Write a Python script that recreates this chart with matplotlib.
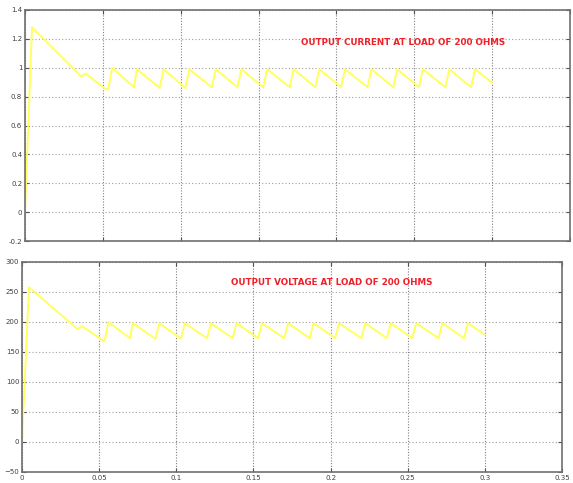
import matplotlib
matplotlib.use("Agg")
import matplotlib.pyplot as plt

# time points (s) shared by both traces
t = [0.0, 0.0045, 0.036, 0.039, 0.052, 0.0535, 0.056,
     0.070, 0.0718, 0.0865, 0.089, 0.103, 0.1055,
     0.120, 0.1225, 0.1365, 0.139, 0.153, 0.1555,
     0.170, 0.1725, 0.1865, 0.189, 0.203, 0.2055,
     0.220, 0.2225, 0.2365, 0.239, 0.253, 0.2555,
     0.270, 0.2725, 0.2865, 0.289, 0.300]

current = [0.0, 1.28, 0.94, 0.96, 0.85, 0.85, 1.0,
           0.865, 0.99, 0.86, 0.99, 0.86, 0.99,
           0.865, 0.99, 0.865, 0.99, 0.865, 0.99,
           0.865, 0.99, 0.865, 0.99, 0.865, 0.99,
           0.865, 0.99, 0.865, 0.99, 0.865, 0.99,
           0.865, 0.99, 0.865, 0.99, 0.895]

voltage = [0.0, 258, 188, 193, 170, 168, 200,
           173, 198, 172, 198, 172, 198,
           173, 198, 173, 198, 173, 198,
           173, 198, 173, 198, 173, 198,
           173, 198, 173, 198, 173, 198,
           173, 198, 173, 198, 179]

current_ticks = [-0.2, 0, 0.2, 0.4, 0.6, 0.8, 1, 1.2, 1.4]
current_labels = ["-0.2", "0", "0.2", "0.4", "0.6", "0.8", "1", "1.2", "1.4"]
voltage_ticks = [-50, 0, 50, 100, 150, 200, 250, 300]
time_ticks = [0, 0.05, 0.1, 0.15, 0.2, 0.25, 0.3, 0.35]
time_labels = ["0", "0.05", "0.1", "0.15", "0.2", "0.25", "0.3", "0.35"]

W, H = 573, 483
fig = plt.figure(figsize=(W / 100, H / 100), dpi=100)
fig.patch.set_facecolor("white")

ax1 = fig.add_axes([25 / W, 1 - 241 / H, (570 - 25) / W, (241 - 10) / H])
ax2 = fig.add_axes([22 / W, 1 - 472 / H, (562 - 22) / W, (472 - 262) / H])

LINE = "#ffff60"
RED = "#f02028"


def style(ax):
    ax.set_xlim(0, 0.35)
    ax.set_xticks(time_ticks)
    ax.grid(True, axis="x", color="#808080", linestyle=(0, (1, 1.5)), linewidth=0.8)
    ax.grid(True, axis="y", color="#a0a0a0", linestyle=(0, (1, 2)), linewidth=0.8)
    for s in ax.spines.values():
        s.set_color("#707070")
        s.set_linewidth(1.2)
    ax.tick_params(direction="in", length=3, color="#505050", labelsize=5,
                   labelcolor="#404040", top=True, right=True, pad=2)
    ax.set_facecolor("white")


ax1.plot(t, current, color=LINE, linewidth=1.4)
style(ax1)
ax1.set_ylim(-0.2, 1.4)
ax1.set_yticks(current_ticks)
ax1.set_yticklabels(current_labels)
ax1.set_xticklabels([])
ax1.text(0.177, 1.178, "OUTPUT CURRENT AT LOAD OF 200 OHMS", color=RED,
         fontsize=6.3, fontweight="bold", va="center", ha="left")

ax2.plot(t, voltage, color=LINE, linewidth=1.4)
style(ax2)
ax2.set_ylim(-50, 300)
ax2.set_yticks(voltage_ticks)
ax2.set_xticklabels(time_labels)
ax2.text(0.1355, 266, "OUTPUT VOLTAGE AT LOAD OF 200 OHMS", color=RED,
         fontsize=6.3, fontweight="bold", va="center", ha="left")

fig.savefig("out.png", dpi=100)
